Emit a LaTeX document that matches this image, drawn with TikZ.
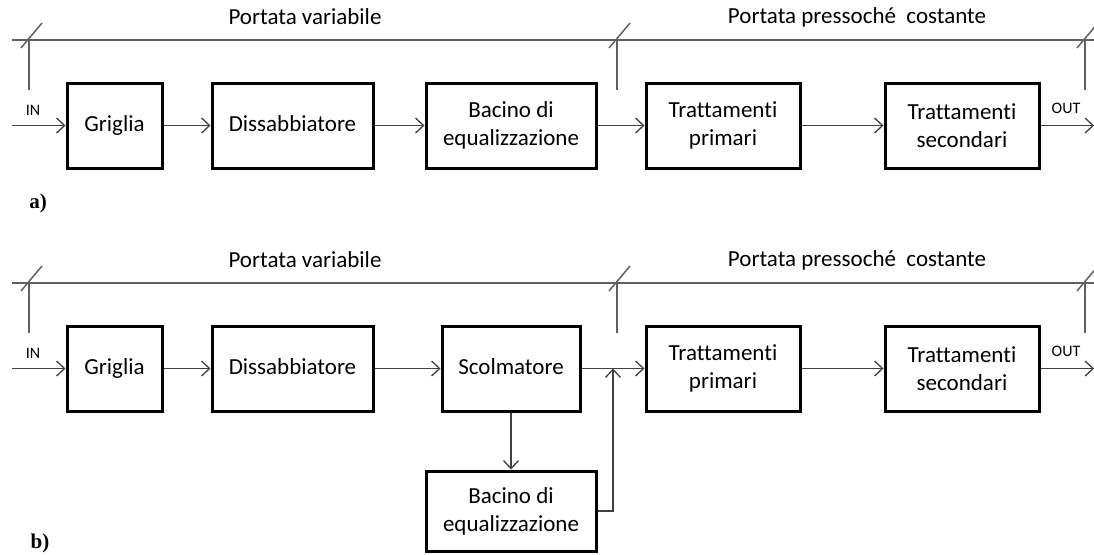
\documentclass[tikz,border=0pt]{standalone}
\usepackage{fontspec}
\setmainfont{Carlito}[Ligatures=NoCommon]
\newfontfamily\partfont{Liberation Serif}
\usetikzlibrary{arrows.meta}

\definecolor{flowgray}{HTML}{404040}
\definecolor{rangegray}{HTML}{606060}

\tikzset{
  blk/.style={draw, line width=3pt, inner sep=0pt, minimum height=85pt, align=center,
    font=\fontsize{23}{28}\selectfont},
  oneline/.style={text height=16pt, text depth=5pt},
  flow/.style={draw=flowgray, line width=1.3pt, -{Straight Barb[length=8pt,width=15pt]}},
  rangeline/.style={draw=rangegray, line width=1.5pt},
  iolabel/.style={font=\fontsize{16}{18}\selectfont},
  headlabel/.style={font=\fontsize{23}{28}\selectfont},
  partlabel/.style={font=\partfont\bfseries\fontsize{21}{24}\selectfont}
}

\begin{document}
\begin{tikzpicture}[x=1pt, y=-1pt]
      \useasboundingbox (0,0) rectangle (1094,554);

      % a) portata ranges
      \draw[rangeline] (12,40) -- (1094,40);
      \foreach \x in {29,617,1085} {
        \draw[rangeline] (\x,40) -- (\x,90);
        \draw[rangeline] (\x-8,48) -- (\x+13,23);
      }
      \node[headlabel] (pva) at (305,17) {Portata variabile};
      \node[headlabel] (pca) at (857,17) {Portata pressoché\ \ costante};

      % a) blocks
      \node[blk, oneline, minimum width=95pt] (ga) at (114.5,125.5) {Griglia};
      \node[blk, oneline, minimum width=161pt] (da) at (292.5,125.5) {Dissabbiatore};
      \node[blk, minimum width=170pt] (ba) at (511,125.5) {Bacino di\\equalizzazione};
      \node[blk, minimum width=154pt] (tpa) at (723,125.5) {Trattamenti\\primari};
      \node[blk, minimum width=154pt] (tsa) at (962,125.5) {Trattamenti\\secondari};
      \coordinate (ina) at (12,125.5);
      \coordinate (outa) at (1094,125.5);
      \node[iolabel] (inla) at (33,110) {IN};
      \node[iolabel] (outla) at (1066,108) {OUT};

      \draw[flow] (ina) -- (ga);
      \draw[flow] (ga) -- (da);
      \draw[flow] (da) -- (ba);
      \draw[flow] (ba) -- (tpa);
      \draw[flow] (tpa) -- (tsa);
      \draw[flow] (tsa) -- (outa);

      \node[partlabel] (la) at (38,203) {a)};

      % b) portata ranges
      \draw[rangeline] (12,283) -- (1094,283);
      \foreach \x in {29,617,1085} {
        \draw[rangeline] (\x,283) -- (\x,333);
        \draw[rangeline] (\x-8,291) -- (\x+13,266);
      }
      \node[headlabel] (pvb) at (305,260) {Portata variabile};
      \node[headlabel] (pcb) at (857,260) {Portata pressoché\ \ costante};

      % b) blocks
      \node[blk, oneline, minimum width=95pt] (gb) at (114.5,368.5) {Griglia};
      \node[blk, oneline, minimum width=161pt] (db) at (292.5,368.5) {Dissabbiatore};
      \node[blk, oneline, minimum width=138pt] (sb) at (511,368.5) {Scolmatore};
      \node[blk, minimum width=154pt] (tpb) at (723,368.5) {Trattamenti\\primari};
      \node[blk, minimum width=154pt] (tsb) at (962,368.5) {Trattamenti\\secondari};
      \node[blk, minimum width=170pt, minimum height=80pt] (bb) at (511,511) {Bacino di\\equalizzazione};
      \coordinate (inb) at (12,368.5);
      \coordinate (outb) at (1094,368.5);
      \coordinate (jb) at (613,368.5);
      \node[iolabel] (inlb) at (33,353) {IN};
      \node[iolabel] (outlb) at (1066,351) {OUT};

      \draw[flow] (inb) -- (gb);
      \draw[flow] (gb) -- (db);
      \draw[flow] (db) -- (sb);
      \draw[flow] (sb) -- (tpb);
      \draw[flow] (sb) -- (bb);
      \draw[flow] (bb.east) -| (jb);
      \draw[flow] (tpb) -- (tsb);
      \draw[flow] (tsb) -- (outb);

      \node[partlabel] (lb) at (40,543) {b)};
\end{tikzpicture}
\end{document}
